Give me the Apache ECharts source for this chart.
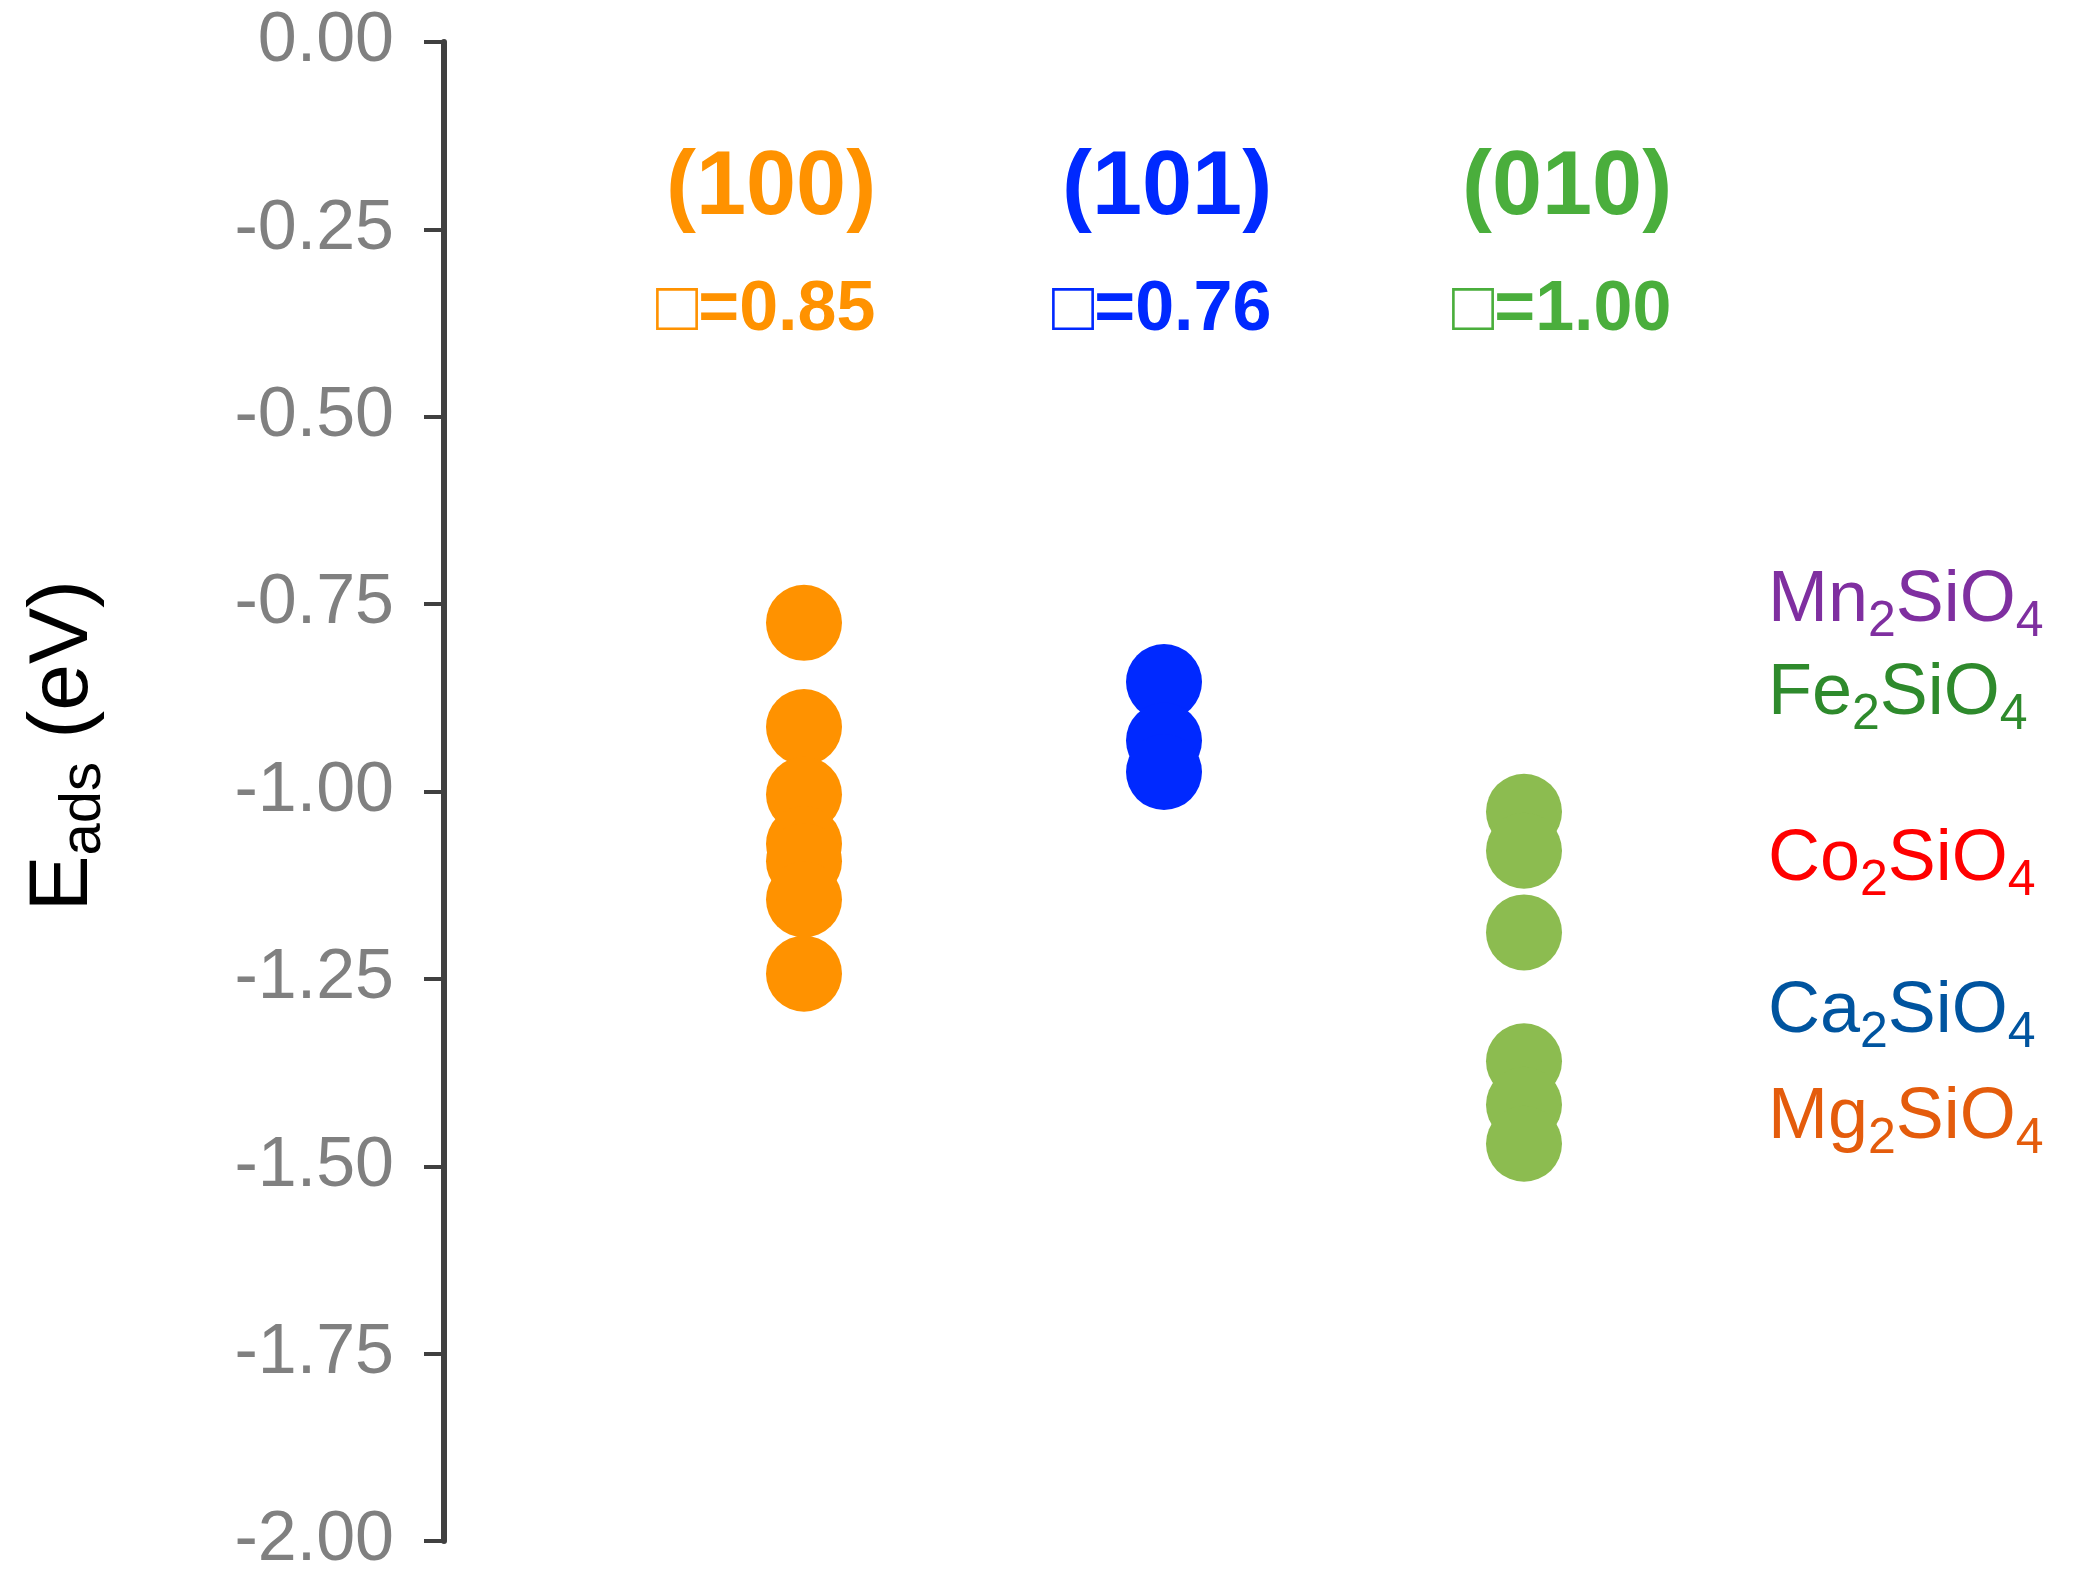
<!DOCTYPE html>
<html>
<head>
<meta charset="utf-8">
<script src="https://cdn.jsdelivr.net/npm/echarts@6/dist/echarts.min.js"></script>
<style>html,body{margin:0;padding:0;background:#fff}#c{width:2078px;height:1580px}</style>
</head>
<body>
<div id="c"></div>
<script>
// facets and their energies (eV)
const facets = ['(100)', '(101)', '(010)'];
const facetNotes = ['\u25A1=0.85', '\u25A1=0.76', '\u25A1=1.00'];
const facetColors = ['#ff9200', '#0029ff', '#4aae3c'];
const pointColors = ['#ff9200', '#0029ff', '#8cbc50'];
const e100 = [-0.775, -0.914, -1.004, -1.07, -1.093, -1.144, -1.243];
const e101 = [-0.854, -0.932, -0.974];
const e010 = [-1.027, -1.079, -1.188, -1.36, -1.418, -1.47];
const materials = ['Mn', 'Fe', 'Co', 'Ca', 'Mg'];
const materialColors = ['#7f2fa0', '#2e8a2c', '#ff0000', '#00549f', '#e45c0c'];
const materialY = [609, 702, 868, 1020, 1126];

const chart = echarts.init(document.getElementById('c'));
const groups = [e100, e101, e010];

const series = groups.map((vals, i) => ({
  type: 'scatter',
  symbolSize: 76,
  itemStyle: { color: pointColors[i], opacity: 1 },
  data: vals.map(v => [i + 1, v])
}));

const graphic = [];
facets.forEach((f, i) => {
  const cx = [776, 1172, 1572][i];
  graphic.push({
    type: 'text', left: cx - 110, top: 144,
    style: { text: f, fill: facetColors[i], font: 'bold 90px Arial', width: 220, align: 'center' }
  });
  graphic.push({
    type: 'text', left: cx - 120, top: 276,
    style: { text: facetNotes[i], fill: facetColors[i], font: 'bold 70px Arial' }
  });
});
materials.forEach((m, i) => {
  graphic.push({
    type: 'text', left: 1768, top: materialY[i] - 44,
    style: {
      text: '{a|' + m + '}{s|2}{a|SiO}{s|4}',
      rich: {
        a: { fill: materialColors[i], fontSize: 72, fontFamily: 'Arial' },
        s: { fill: materialColors[i], fontSize: 50, fontFamily: 'Arial', padding: [42, 0, 0, 0] }
      }
    }
  });
});
graphic.push({
  type: 'text', left: 22, top: 580, rotation: Math.PI / 2,
  style: {
    text: '{a|E}{s|ads}{a| (eV)}',
    rich: {
      a: { fill: '#000', fontSize: 84, fontFamily: 'Arial' },
      s: { fill: '#000', fontSize: 58, fontFamily: 'Arial', padding: [40, 0, 0, 0] }
    }
  }
});

chart.setOption({
  animation: false,
  backgroundColor: '#fff',
  grid: { left: 444, right: 266, top: 42, bottom: 39 },
  xAxis: { type: 'value', min: 0, max: 3.8, show: false },
  yAxis: {
    type: 'value', min: -2, max: 0, interval: 0.25,
    axisLine: { show: true, lineStyle: { color: '#404040', width: 6 } },
    axisTick: { show: true, length: 20, lineStyle: { color: '#404040', width: 4 } },
    splitLine: { show: false },
    axisLabel: {
      color: '#808080', fontSize: 70, fontFamily: 'Arial', margin: 50,
      formatter: v => v.toFixed(2)
    }
  },
  graphic: graphic,
  series: series
});
</script>
</body>
</html>
